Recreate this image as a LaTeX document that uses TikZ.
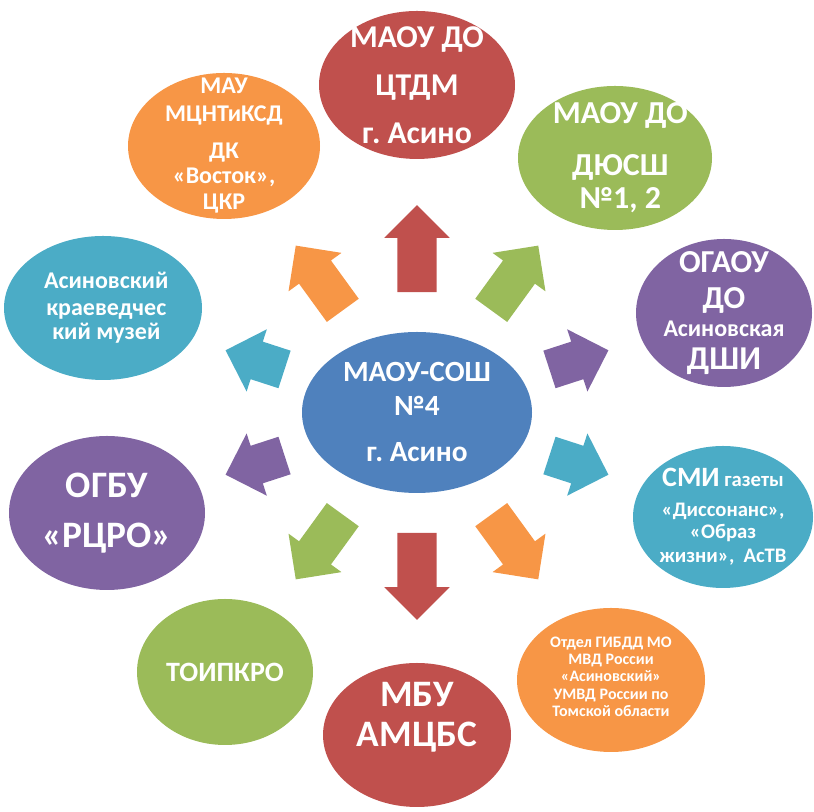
\documentclass[tikz,border=0pt]{standalone}
\usepackage{fontspec}
\setmainfont{Carlito}
\frenchspacing
\usetikzlibrary{shapes.geometric,shapes.arrows}
\definecolor{ored}{HTML}{C0504D}
\definecolor{oorange}{HTML}{F79646}
\definecolor{ogreen}{HTML}{9BBB59}
\definecolor{opurple}{HTML}{8064A2}
\definecolor{oteal}{HTML}{4BACC6}
\definecolor{oblue}{HTML}{4F81BD}

\begin{document}
\begin{tikzpicture}[x=0.75pt,y=0.75pt,
  bubble/.style={ellipse,draw=none,inner sep=0pt},
  txt/.style={text=white,align=center,inner sep=0pt},
  spoke/.style={single arrow,draw=none,inner xsep=0pt,inner ysep=14.6pt,
    single arrow head extend=9.75pt,anchor=tail}]
  \useasboundingbox (0,0) rectangle (814,812);
  % ellipses
  \node[bubble,fill=oblue,minimum width=172.5pt,minimum height=120.75pt] (school) at (417,399.5) {};
  \node[bubble,fill=ored,minimum width=147pt,minimum height=111pt] (ctdm) at (417,727) {};
  \node[bubble,fill=oorange,minimum width=144pt,minimum height=109.5pt] (mau) at (224,666) {};
  \node[bubble,fill=ogreen,minimum width=145.5pt,minimum height=108pt] (dyussh) at (615,654) {};
  \node[bubble,fill=opurple,minimum width=132pt,minimum height=111pt] (dshi) at (724,499) {};
  \node[bubble,fill=oteal,minimum width=148.5pt,minimum height=108pt] (museum) at (103,504) {};
  \node[bubble,fill=oteal,minimum width=135pt,minimum height=106.5pt] (smi) at (723,295) {};
  \node[bubble,fill=opurple,minimum width=147pt,minimum height=115.5pt] (rcro) at (107,299) {};
  \node[bubble,fill=oorange,minimum width=141pt,minimum height=108pt] (gibdd) at (611,132) {};
  \node[bubble,fill=ored,minimum width=141pt,minimum height=108pt] (amcbs) at (417,77) {};
  \node[bubble,fill=ogreen,minimum width=132pt,minimum height=109.5pt] (toipkro) at (225,140) {};
  % texts
  \node[txt,font=\bfseries\fontsize{22}{25}\selectfont] (schoolT) at (school) {МАОУ-СОШ\\№4\\[10pt]г. Асино};
  \node[txt,font=\bfseries\fontsize{23.8}{36}\selectfont] (ctdmT) at (ctdm) {МАОУ ДО\\ЦТДМ\\г. Асино};
  \node[txt,font=\bfseries\fontsize{18}{18.75}\selectfont] (mauT) at (mau) {МАУ\\[2.25pt]МЦНТиКСД\\[9pt]ДК\\«Восток»,\\[0.75pt]ЦКР};
  \node[txt,font=\bfseries\fontsize{24}{24.75}\selectfont,xshift=4pt] (dyusshT) at (dyussh) {МАОУ ДО\\[14.25pt]ДЮСШ\\№1, 2};
  \node[txt,font=\bfseries\fontsize{24}{18}\selectfont] (dshiT) at (dshi) {ОГАОУ\\[9pt]ДО\\[3.4pt]{\fontsize{18}{18}\selectfont Асиновская}\\[6.75pt]{\fontsize{25}{25}\selectfont ДШИ}};
  \node[txt,font=\bfseries\fontsize{18}{18.5}\selectfont,xshift=2.5pt] (museumT) at (museum) {Асиновский\\[1.5pt]краеведчес\\кий музей};
  \node[txt,font=\bfseries\fontsize{15.5}{17}\selectfont] (smiT) at (smi) {{\fontsize{21}{21}\selectfont СМИ} газеты\\[5pt]«Диссонанс»,\\«Образ\\[1pt]жизни»,\ \ АсТВ};
  \node[txt,font=\bfseries\fontsize{28}{38}\selectfont] (rcroT) at (rcro) {ОГБУ\\«РЦРО»};
  \node[txt,font=\bfseries\fontsize{12}{13}\selectfont,yshift=2.5pt] (gibddT) at (gibdd) {Отдел ГИБДД МО\\МВД России\\«Асиновский»\\УМВД России по\\Томской области};
  \node[txt,font=\bfseries\fontsize{28}{30}\selectfont,yshift=13.5pt] (amcbsT) at (amcbs) {МБУ\\АМЦБС};
  \node[txt,font=\bfseries\fontsize{21}{21}\selectfont] (toipkroT) at (toipkro) {ТОИПКРО};
  % arrows
  \node[spoke,fill=ored,rotate=90,minimum height=65.25pt] (aN) at ([shift={(90:120)}]school.center) {};
  \node[spoke,fill=ogreen,rotate=54,minimum height=60pt] (aNE) at ([shift={(54:126)}]school.center) {};
  \node[spoke,fill=opurple,rotate=18,minimum height=46.5pt] (aENE) at ([shift={(18:139)}]school.center) {};
  \node[spoke,fill=oteal,rotate=-18,minimum height=46.5pt] (aESE) at ([shift={(-18:139)}]school.center) {};
  \node[spoke,fill=oorange,rotate=-54,minimum height=60pt] (aSE) at ([shift={(-54:126)}]school.center) {};
  \node[spoke,fill=ored,rotate=-90,minimum height=65.25pt] (aS) at ([shift={(-90:120)}]school.center) {};
  \node[spoke,fill=ogreen,rotate=-126,minimum height=60pt] (aSW) at ([shift={(-126:126)}]school.center) {};
  \node[spoke,fill=opurple,rotate=198,minimum height=46.5pt] (aWSW) at ([shift={(198:139)}]school.center) {};
  \node[spoke,fill=oteal,rotate=162,minimum height=46.5pt] (aWNW) at ([shift={(162:139)}]school.center) {};
  \node[spoke,fill=oorange,rotate=126,minimum height=60pt] (aNW) at ([shift={(126:126)}]school.center) {};
\end{tikzpicture}
\end{document}
